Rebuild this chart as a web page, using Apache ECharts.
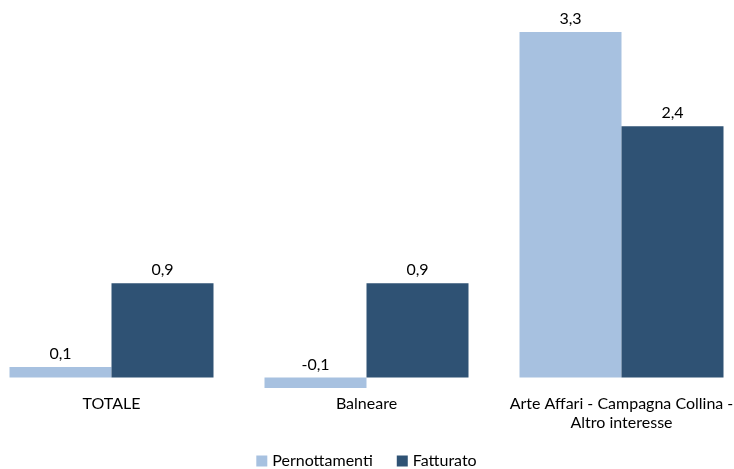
<!DOCTYPE html>
<html>
<head>
<meta charset="utf-8">
<script src="https://cdn.jsdelivr.net/npm/echarts@6/dist/echarts.min.js"></script>
<style>
  html, body { margin: 0; padding: 0; background: #fff; overflow: hidden; width: 734px; height: 469px; }
  /* the plot is a little wider than the window so the outer bars reach the edges */
  #chart { width: 765px; height: 469px; margin-left: -16px; }
</style>
</head>
<body>
<div id="chart"></div>
<script>
// Variazioni percentuali per area: pernottamenti e fatturato
const categories = ['TOTALE', 'Balneare', 'Arte Affari - Campagna Collina -\nAltro interesse'];
const seriesNames = ['Pernottamenti', 'Fatturato'];
const pernottamenti = [0.1, -0.1, 3.3];
const fatturato = [0.9, 0.9, 2.4];

const FONT = 'Lato, "Open Sans", sans-serif';
const fmt = p => p.value.toFixed(1).replace('.', ',');

const chart = echarts.init(document.getElementById('chart'), null, { renderer: 'canvas' });
chart.setOption({
  animation: false,
  textStyle: { fontFamily: FONT },
  color: ['#A7C1E0', '#2F5274'],
  grid: { left: 0, right: 0, top: 32, bottom: 81, containLabel: false },
  legend: {
    top: 448,
    left: 'center',
    itemWidth: 11,
    itemHeight: 11,
    itemGap: 24,
    icon: 'rect',
    textStyle: { fontFamily: FONT, fontSize: 16, color: '#000' },
    data: seriesNames
  },
  xAxis: {
    type: 'category',
    data: categories,
    axisLine: { show: false },
    axisTick: { show: false },
    axisLabel: { interval: 0, fontFamily: FONT, fontSize: 16, color: '#000', margin: 6, lineHeight: 19 }
  },
  yAxis: {
    type: 'value',
    min: -0.1,
    max: 3.3,
    show: false
  },
  series: [
    {
      name: seriesNames[0],
      type: 'bar',
      data: pernottamenti,
      barGap: '0%',
      barCategoryGap: '20%',
      label: { show: true, position: 'top', formatter: fmt, fontFamily: FONT, fontSize: 16, color: '#000', distance: 5 }
    },
    {
      name: seriesNames[1],
      type: 'bar',
      data: fatturato,
      barGap: '0%',
      barCategoryGap: '20%',
      label: { show: true, position: 'top', formatter: fmt, fontFamily: FONT, fontSize: 16, color: '#000', distance: 5 }
    }
  ]
});
</script>
</body>
</html>
